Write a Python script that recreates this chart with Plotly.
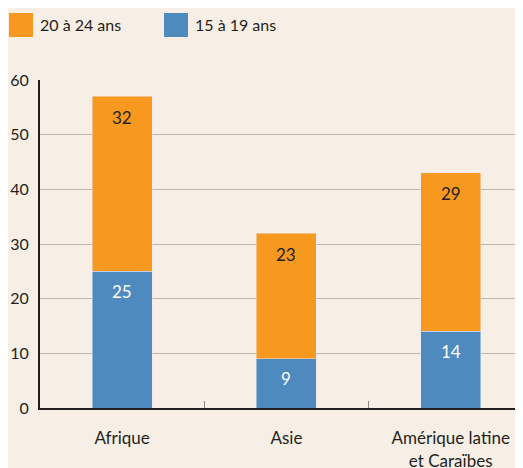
import plotly.graph_objects as go

# Données
regions = ["Afrique", "Asie", "Amérique latine<br>et Caraïbes"]
ans_15_19 = [25, 9, 14]
ans_20_24 = [32, 23, 29]
noms_series = ["20 à 24 ans", "15 à 19 ans"]
y_ticks = [0, 10, 20, 30, 40, 50, 60]

orange = "#F7981F"
bleu = "#4F8ABF"
fond = "#F7EEE6"
texte = "#231F20"
police = "Lato"

# la page ajoute une marge de 8 px autour de la figure
DECALAGE = 8
W, H = 523 - DECALAGE, 468 - DECALAGE
ML, MR, MT, MB = 32, 0, 72, 60


def px_x(x):
    # x en pixels de l'image de référence -> coordonnée paper
    return (x - DECALAGE - ML) / (W - ML - MR)


def px_y(y):
    return (H - MB - (y - DECALAGE)) / (H - MT - MB)


fig = go.Figure()

fig.add_trace(go.Bar(
    x=regions, y=ans_15_19, name=noms_series[1], marker_color=bleu,
    width=0.365, showlegend=False,
))
fig.add_trace(go.Bar(
    x=regions, y=ans_20_24, name=noms_series[0], marker_color=orange,
    width=0.365, showlegend=False,
))

# Valeurs écrites en haut de chaque segment
for reg, bas, haut in zip(regions, ans_15_19, ans_20_24):
    fig.add_annotation(x=reg, y=bas, text=str(bas), showarrow=False,
                       yanchor="middle", yshift=-20,
                       font=dict(size=17, color="white", family=police))
    fig.add_annotation(x=reg, y=bas + haut, text=str(haut), showarrow=False,
                       yanchor="middle", yshift=-21,
                       font=dict(size=17, color=texte, family=police))

# Légende dessinée à la main (carrés + libellés)
legende = [(9, orange, noms_series[0]), (164, bleu, noms_series[1])]
for x0, couleur, nom in legende:
    fig.add_shape(type="rect", xref="paper", yref="paper",
                  x0=px_x(x0), x1=px_x(x0 + 24), y0=px_y(37), y1=px_y(13),
                  fillcolor=couleur, line_width=0)
    fig.add_annotation(xref="paper", yref="paper", x=px_x(x0 + 29), y=px_y(25),
                       text=nom, showarrow=False, xanchor="left", yanchor="middle",
                       font=dict(size=16, color=texte, family=police))

fig.update_layout(
    width=W, height=H,
    margin=dict(l=ML, r=MR, t=MT, b=MB, autoexpand=False),
    paper_bgcolor=fond, plot_bgcolor=fond,
    barmode="stack",
    font=dict(family=police, color=texte, size=15),
)
fig.update_xaxes(
    range=[-0.5, 2.44], showline=True, linecolor="#231F20", linewidth=2,
    tickson="boundaries", ticks="inside", ticklen=7, tickcolor="#8a8480",
    tickwidth=1, ticklabelstandoff=14, tickfont=dict(size=17),
    showgrid=False, zeroline=False, automargin=False,
)
fig.update_yaxes(
    range=[0, 60], tickvals=y_ticks, showline=True, linecolor="#231F20",
    linewidth=2, ticks="", ticklabelstandoff=6, tickfont=dict(size=16),
    showgrid=True, gridcolor="#BDB5AE", gridwidth=1, zeroline=False,
    automargin=False,
)

fig.write_html("out.html")
